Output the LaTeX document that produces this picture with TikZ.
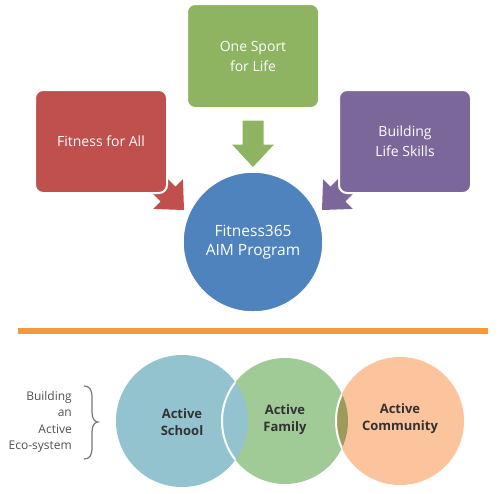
\documentclass[tikz,border=0pt]{standalone}
\usepackage{fontspec}
\setmainfont{Open Sans}
\definecolor{cred}{RGB}{192,80,77}
\definecolor{cgreen}{RGB}{142,180,98}
\definecolor{cpurple}{RGB}{124,103,155}
\definecolor{cblue}{RGB}{79,131,190}
\definecolor{corangeline}{RGB}{247,152,58}
\definecolor{lblue}{RGB}{148,195,208}
\definecolor{lgreen}{RGB}{160,202,150}
\definecolor{lorange}{RGB}{251,196,156}
\definecolor{lolive}{RGB}{156,155,92}
\definecolor{darktext}{RGB}{50,50,50}
\definecolor{graytext}{RGB}{80,80,80}
\definecolor{bracegray}{RGB}{120,120,120}
\begin{document}
\begin{tikzpicture}[x=1pt,y=-1pt,
  box/.style={rectangle, rounded corners=8pt, draw=white, line width=2pt,
    minimum width=132pt, minimum height=104pt, inner sep=0pt,
    text=white, align=center, font=\fontsize{14}{20}\selectfont},
  hub/.style={circle, draw=white, line width=1.5pt, minimum size=140pt, inner sep=0pt,
    fill=cblue, text=white, align=center, font=\fontsize{15.5}{18.5}\selectfont},
  blockarrow/.pic={\fill[pic actions] (0,0) -- (-22.5,-21) -- (-22.5,-10.5) -- (-46.5,-10.5)
     -- (-46.5,10.5) -- (-22.5,10.5) -- (-22.5,21) -- cycle;},
  ringlabel/.style={align=center, text=darktext, inner sep=0pt,
    font=\bfseries\fontsize{13}{17}\selectfont},
  sidelabel/.style={align=right, text=graytext, inner sep=0pt, anchor=east,
    font=\fontsize{12}{16.3}\selectfont},
  rule/.style={draw=corangeline, line width=6pt},
  bracket/.style={draw=bracegray, line width=1.2pt},
  whitearc/.style={draw=white, line width=2pt}
]
\useasboundingbox (0,0) rectangle (500,493);

% block arrows (drawn under the boxes)
\pic[fill=cgreen, rotate=-90] at (253,167) {blockarrow};
\pic[fill=cred, rotate=-45] at (184,210) {blockarrow};
\pic[fill=cpurple, rotate=-135] at (322,210) {blockarrow};

% top boxes
\node[box, fill=cgreen] (sport) at (253,56) {One Sport\\for Life};
\node[box, fill=cred, minimum height=103pt] (all) at (101,141.5) {Fitness for All};
\node[box, fill=cpurple, minimum height=103pt] (skills) at (405,141.5) {Building\\Life Skills};

% hub
\node[hub] (aim) at (253,242) {Fitness365\\AIM Program};

% divider
\coordinate (r1) at (18,331);
\coordinate (r2) at (488,331);
\draw[rule] (r1) -- (r2);

% bottom circles
\coordinate (cs) at (182,421);
\coordinate (cf) at (285,421);
\coordinate (cc) at (400,421);
\fill[lblue] (cs) circle (66pt);
\fill[lgreen] (cf) circle (63pt);
\begin{scope}
  \clip (cf) circle (63pt);
  \fill[lblue] (cs) circle (66pt);
\end{scope}
\begin{scope}
  \clip (cs) circle (66pt);
  \draw[whitearc] (cf) circle (63pt);
\end{scope}
\fill[lorange] (cc) circle (64pt);
\begin{scope}
  \clip (cf) circle (63pt);
  \fill[lolive] (cc) circle (64pt);
  \draw[whitearc] (cc) circle (64pt);
\end{scope}

\node[ringlabel] (school) at (182,422) {Active\\School};
\node[ringlabel] (family) at (285,420) {Active\\Family};
\node[ringlabel] (community) at (400,419) {Active\\Community};

% side label and brace
\node[sidelabel] (eco) at (72,422) {Building\\an\\Active\\Eco-system};
\draw[bracket] (84,386) .. controls (90,386) and (92,390) .. (92,398)
  -- (92,412) .. controls (92,419) and (95,422) .. (98,422)
  .. controls (95,422) and (92,425) .. (92,432)
  -- (92,447) .. controls (92,455) and (90,459) .. (84,459);
\end{tikzpicture}
\end{document}
